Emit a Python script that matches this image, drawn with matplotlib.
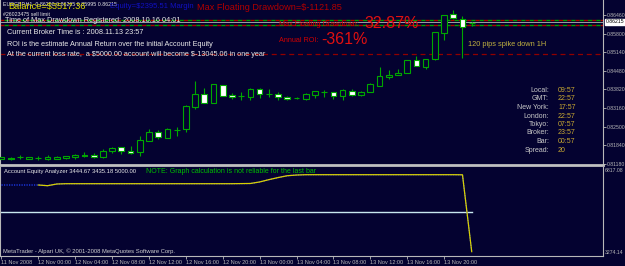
import numpy as np
import matplotlib.pyplot as plt
from matplotlib import transforms

plt.rcParams['font.family'] = ['Liberation Sans', 'DejaVu Sans']

# EURGBP H1 candles, 11 Nov 2008 20:00 .. 13 Nov 2008 23:00
opens = [0.81357, 0.81403, 0.81438, 0.81367, 0.81403, 0.81346, 0.81367, 0.81381, 0.81417, 0.81498,
         0.81488, 0.81438, 0.81630, 0.81771, 0.81651, 0.81594, 0.82005, 0.82303, 0.82112, 0.82384,
         0.82420, 0.83210, 0.83660, 0.83352, 0.83969, 0.83614, 0.83589, 0.83564, 0.83848, 0.83660,
         0.83650, 0.83554, 0.83508, 0.83494, 0.83625, 0.83742, 0.83731, 0.83589, 0.83777, 0.83614,
         0.83731, 0.83954, 0.84273, 0.84334, 0.84415, 0.84865, 0.84628, 0.84890, 0.85811, 0.86485,
         0.86308, 0.86166]
highs = [0.81438, 0.81417, 0.81498, 0.81438, 0.81463, 0.81498, 0.81452, 0.81474, 0.81545, 0.81594,
         0.81569, 0.81700, 0.81771, 0.81775, 0.81817, 0.82172, 0.82409, 0.82374, 0.82445, 0.82501,
         0.83260, 0.84132, 0.83884, 0.84015, 0.83979, 0.83706, 0.83731, 0.83884, 0.83884, 0.83827,
         0.83721, 0.83589, 0.83564, 0.83685, 0.83777, 0.83791, 0.83735, 0.83827, 0.83827, 0.83767,
         0.84039, 0.84607, 0.84511, 0.84546, 0.84880, 0.85007, 0.84915, 0.85855, 0.86470, 0.86637,
         0.86425, 0.86223]
lows = [0.81346, 0.81335, 0.81367, 0.81357, 0.81321, 0.81321, 0.81357, 0.81367, 0.81367, 0.81427,
        0.81381, 0.81381, 0.81559, 0.81534, 0.81523, 0.81474, 0.81995, 0.82066, 0.82105, 0.82182,
        0.82314, 0.83129, 0.83331, 0.83331, 0.83589, 0.83472, 0.83437, 0.83437, 0.83508, 0.83564,
        0.83458, 0.83447, 0.83472, 0.83447, 0.83508, 0.83564, 0.83472, 0.83437, 0.83589, 0.83589,
        0.83721, 0.83950, 0.84181, 0.84330, 0.84405, 0.84640, 0.84536, 0.84880, 0.85574, 0.86330,
        0.84925, 0.86070]
closes = [0.81427, 0.81346, 0.81440, 0.81427, 0.81405, 0.81427, 0.81438, 0.81463, 0.81509, 0.81452,
          0.81438, 0.81630, 0.81746, 0.81651, 0.81580, 0.82030, 0.82324, 0.82126, 0.82420, 0.82386,
          0.83235, 0.83660, 0.83352, 0.84004, 0.83600, 0.83543, 0.83591, 0.83837, 0.83671, 0.83662,
          0.83543, 0.83472, 0.83506, 0.83650, 0.83756, 0.83744, 0.83589, 0.83791, 0.83635, 0.83742,
          0.84015, 0.84288, 0.84334, 0.84415, 0.84865, 0.84653, 0.84911, 0.85847, 0.86460, 0.86343,
          0.86045, 0.86180]

bid = 0.86215
order_lines = [0.86283, 0.86106]
limit_line = 0.85078
price_ticks = [0.86460, 0.85800, 0.85140, 0.84480, 0.83820, 0.83160, 0.82500, 0.81840, 0.81180]

# Account Equity Analyzer sub-window
nan = np.nan
equity = [nan, nan, nan, nan, 6169, 6139, 6212, 6225, 6225, 6225,
          6225, 6225, 6225, 6225, 6225, 6225, 6225, 6225, 6225, 6225,
          6225, 6225, 6225, 6225, 6225, 6225, 6230, 6235, 6300, 6400,
          6490, 6570, 6600, 6614, 6614, 6614, 6614, 6614, 6614, 6614,
          6614, 6614, 6614, 6614, 6614, 6614, 6614, 6614, 6614, 6614,
          6610, 3290]
balance = [6169, 6169, 6169, 6169, 6169, 6139, 6212, 6225, 6225, 6225,
           6225, 6225, 6225, 6225, 6225, 6225, 6225, 6225, 6225, 6225,
           6225, 6225, 6225, 6225, 6225, 6225, 6228, 6232, 6300, 6400,
           6490, 6570, 6600, 6614, 6614, 6614, 6614, 6614, 6614, 6614,
           6614, 6614, 6614, 6614, 6614, 6614, 6614, 6614, 6614, 6614,
           6610, 3290]
start_equity = 5000.00
ind_ticks = [6817.08, 3274.14]

time_pos = [0, 4, 8, 12, 16, 20, 24, 28, 32, 36, 40, 44, 48]
time_labels = ['11 Nov 2008', '12 Nov 00:00', '12 Nov 04:00', '12 Nov 08:00', '12 Nov 12:00',
               '12 Nov 16:00', '12 Nov 20:00', '13 Nov 00:00', '13 Nov 04:00', '13 Nov 08:00',
               '13 Nov 12:00', '13 Nov 16:00', '13 Nov 20:00']

clock_names = ['Local:', 'GMT:', 'New York:', 'London:', 'Tokyo:', 'Broker:', 'Bar:', 'Spread:']
clock_values = ['09:57', '22:57', '17:57', '22:57', '07:57', '23:57', '00:57', '20']

bg = '#040230'
grey = '#b8b8b8'
green = '#00a800'

W, H = 625, 266
fig = plt.figure(figsize=(W / 100, H / 100), dpi=100)
fig.patch.set_facecolor(bg)

ax = fig.add_axes([0, 101 / H, 603 / W, 165 / H])
ax2 = fig.add_axes([0, 10 / H, 603 / W, 89 / H])

x = np.arange(len(opens))
xlim = (-0.16, 65.24)

# ---- candles
o = np.array(opens)
c = np.array(closes)
ax.vlines(x, lows, highs, color=green, lw=0.8, zorder=3)
fills = np.where(c >= o, bg, 'white')
ax.bar(x, np.abs(c - o), bottom=np.minimum(o, c), width=0.62, color=fills,
       edgecolor=green, linewidth=0.8, zorder=4)

# order / price lines
for p in order_lines:
    ax.axhline(p, color='#b00000', lw=1.0, linestyle=(0, (3, 3)), zorder=2)
    ax.axhline(p, color='#00a000', lw=1.0, linestyle=(3, (3, 3)), zorder=2)
ax.axhline(bid, color='#a0a0a0', lw=0.7, zorder=2)
ax.axhline(limit_line, color='#900000', lw=0.9, linestyle=(0, (4, 3)), zorder=2)

ax.set_xlim(*xlim)
ax.set_ylim(0.81144, 0.86992)
ax.set_facecolor(bg)
ax.set_xticks([])
ax.yaxis.tick_right()
ax.set_yticks(price_ticks)
ax.set_yticklabels(['%.5f' % t for t in price_ticks])
ax.tick_params(axis='y', colors=grey, labelsize=3.7, length=2, width=0.6, pad=0.5)
ax.spines['top'].set_visible(False)
ax.spines['left'].set_color(grey)
ax.spines['right'].set_color(grey)
ax.spines['bottom'].set_color('#c0c0c0')
ax.spines['bottom'].set_linewidth(2)

# current price box
tr = transforms.blended_transform_factory(ax.transAxes, ax.transData)
ax.text(1.005, bid, '%.5f' % bid, transform=tr, fontsize=3.7, color='black', va='center', ha='left',
        bbox=dict(boxstyle='square,pad=0.15', fc='white', ec='white'), clip_on=False, zorder=10)

# ---- indicator window
ax2.set_facecolor(bg)
ax2.axhline(start_equity, xmin=0, xmax=(x[-1] - xlim[0]) / (xlim[1] - xlim[0]),
            color='#c8e8f0', lw=1.0)
ax2.plot(x, balance, color='#2040ff', lw=0.9, linestyle=(0, (1, 1)))
ax2.plot(x, equity, color='#d8d000', lw=0.9)
ax2.set_xlim(*xlim)
ax2.set_ylim(3101.9, 6946.7)
ax2.yaxis.tick_right()
ax2.set_yticks(ind_ticks)
ax2.set_yticklabels(['%.2f' % t for t in ind_ticks])
ax2.tick_params(axis='y', colors=grey, labelsize=3.7, length=0, pad=1.5)
ax2.set_xticks(time_pos)
ax2.set_xticklabels(time_labels, ha='left')
ax2.tick_params(axis='x', colors=grey, labelsize=4.0, length=2, width=0.6, pad=1)
ax2.spines['top'].set_visible(False)
for s in ['left', 'right', 'bottom']:
    ax2.spines[s].set_color(grey)


def put(px, py, s, **kw):
    kw.setdefault('va', 'center')
    kw.setdefault('ha', 'left')
    fig.text(px / W, 1 - py / H, s, parse_math=False, **kw)


# ---- overlay texts
white = '#e8e8e8'
put(3, 4, 'EURGBP,H1  0.86200 0.86265 0.85995 0.86215', fontsize=3.8, color=white)
put(8, 7, 'Balance=$3517.36', fontsize=6.7, color='#d8d800')
put(110, 6, 'Equity=$2395.51 Margin', fontsize=5.5, color='#1010c0')
put(3, 15, '#26023475 sell limit', fontsize=3.8, color=white)
put(5, 21, 'Time of Max Drawdown Registered: 2008.10.16 04:01', fontsize=5.3, color=white)
put(7, 32, 'Current Broker Time is : 2008.11.13 23:57', fontsize=5.3, color=white)
put(7, 44, 'ROI is the estimate Annual Return over the initial Account Equity', fontsize=5.2, color=white)
put(7, 55, 'At the current loss rate,  a $5000.00 account will become $-13045.06 in one year',
    fontsize=5.2, color=white)
put(197, 7, 'Max Floating Drawdown=$-1121.85', fontsize=6.6, color='#b00000')
put(279, 25, 'Max Floating Drawdown:', fontsize=5.2, color='#d00000')
put(364, 23, '32.87%', fontsize=11.5, color='#e01010')
put(279, 41, 'Annual ROI:', fontsize=5.2, color='#d00000')
put(321, 40, '-361%', fontsize=11.5, color='#e01010')
put(468, 44, '120 pips spike down 1H', fontsize=5.3, color='#c0b040')

rows_y = [91, 99, 107.7, 116.3, 124.7, 133, 141.7, 150.3]
for yy, nm, val in zip(rows_y, clock_names, clock_values):
    put(549, yy, nm, fontsize=5.0, color='#c8c8c8', ha='right')
    put(558, yy, val, fontsize=5.0, color='#c8a830')

put(4, 171, 'Account Equity Analyzer 3444.67 3435.18 5000.00', fontsize=4.2, color=white)
put(146, 171.5, 'NOTE: Graph calculation is not reliable for the last bar', fontsize=5.0, color='#00c000')
put(3, 251, 'MetaTrader - Alpari UK, \u00a9 2001-2008 MetaQuotes Software Corp.', fontsize=4.2, color='#d0d0d0')

fig.savefig('out.png', dpi=100, facecolor=bg)
